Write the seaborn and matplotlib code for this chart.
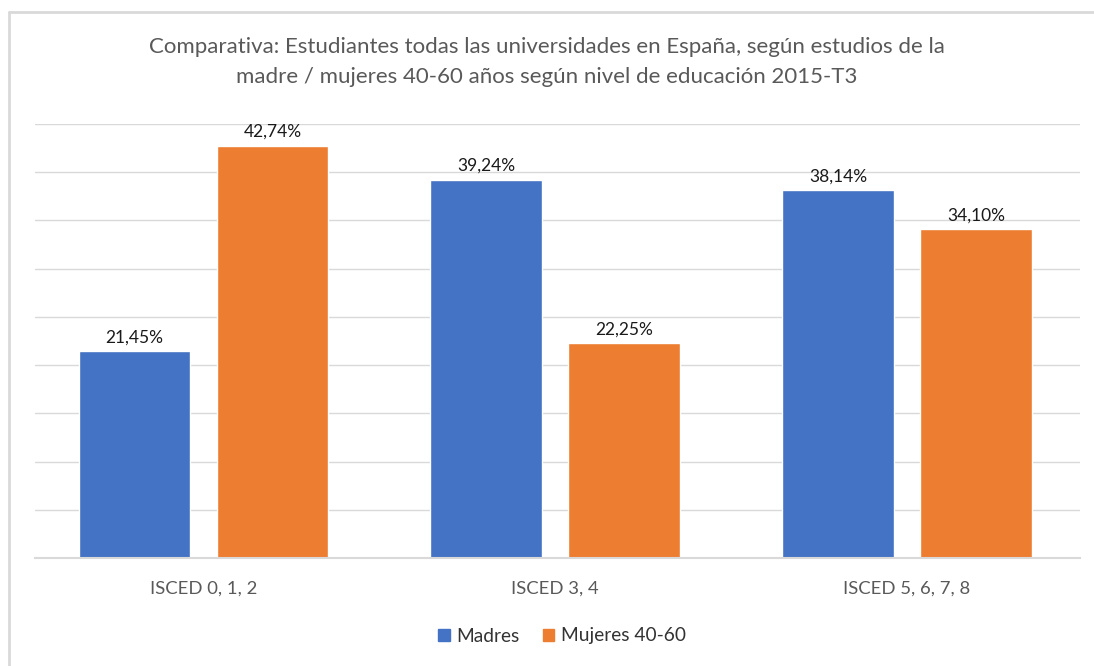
import pandas as pd
import matplotlib.pyplot as plt
import seaborn as sns
from matplotlib.patches import Rectangle
from matplotlib.lines import Line2D

# --- Data ---
categories = ['ISCED 0, 1, 2', 'ISCED 3, 4', 'ISCED 5, 6, 7, 8']
madres = [21.45, 39.24, 38.14]
mujeres = [42.74, 22.25, 34.10]
series = ['Madres', 'Mujeres 40-60']

df = pd.DataFrame({
    'Nivel': categories * 2,
    'Valor': madres + mujeres,
    'Serie': [series[0]] * 3 + [series[1]] * 3,
})

sns.set_style('white')
plt.rcParams['font.family'] = ['Lato', 'DejaVu Sans']

fig = plt.figure(figsize=(10.94, 6.66), dpi=100)
W, H = 1094, 666
ax = fig.add_axes([35 / W, 1 - 558 / H, (1080 - 35) / W, (558 - 124) / H])

palette = {'Madres': '#4472C4', 'Mujeres 40-60': '#ED7D31'}
sns.barplot(ax=ax, data=df, x='Nivel', y='Valor', hue='Serie', palette=palette,
            width=0.785, gap=0.19, saturation=1, legend=False)

ax.set_ylim(0, 45)
ax.set_xlim(-0.479, 2.4915)
ax.set_yticks(range(0, 46, 5))
ax.set_yticklabels([])
ax.tick_params(axis='y', length=0)
ax.tick_params(axis='x', length=0, pad=16.5, labelsize=13.3, labelcolor='#595959')
ax.grid(axis='y', color='#D9D9D9', linewidth=1)
ax.set_axisbelow(True)
for s in ['top', 'right', 'left']:
    ax.spines[s].set_visible(False)
ax.spines['bottom'].set_color('#D9D9D9')
ax.spines['bottom'].set_linewidth(1.5)
ax.set_xlabel('')
ax.set_ylabel('')

# data labels
for p in ax.patches:
    h = p.get_height()
    if h > 0:
        ax.annotate(f'{h:.2f}%'.replace('.', ','), (p.get_x() + p.get_width() / 2, h),
                    xytext=(0, 10), textcoords='offset points', ha='center', va='center',
                    fontsize=12.5, color='#1a1a1a')

fig.text(0.5, 1 - 47 / H, 'Comparativa: Estudiantes todas las universidades en España, según estudios de la',
         ha='center', va='center', fontsize=16, color='#595959')
fig.text(0.5, 1 - 77 / H, 'madre / mujeres 40-60 años según nivel de educación 2015-T3',
         ha='center', va='center', fontsize=16, color='#595959')

# legend
handles = [Rectangle((0, 0), 1, 1, color=palette[s]) for s in series]
fig.legend(handles, series, loc='center', bbox_to_anchor=(562 / W, 1 - 636 / H), ncol=2,
           frameon=False, fontsize=13.8, handlelength=0.6, handleheight=0.6,
           handletextpad=0.35, columnspacing=1.2, labelcolor='#333333')

# chart border (left and top edges only visible)
fig.add_artist(Line2D([8.5 / W, 8.5 / W], [0, 1 - 11.5 / H], transform=fig.transFigure,
                      color='#D9D9D9', linewidth=2))
fig.add_artist(Line2D([8.5 / W, 1], [1 - 11.5 / H, 1 - 11.5 / H], transform=fig.transFigure,
                      color='#D9D9D9', linewidth=2))

fig.savefig('out.png', dpi=100)
